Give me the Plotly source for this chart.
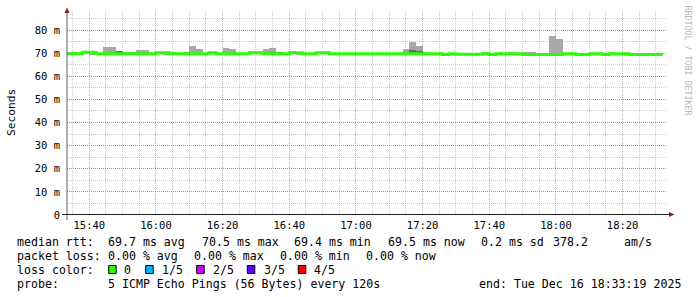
import plotly.graph_objects as go
import pandas as pd

# ---------------- data (2-minute steps, starting 15:32) ----------------
step_start = pd.date_range("2025-12-16 15:32:00", periods=90, freq="2min")
range_start = "2025-12-16 15:33:19"
range_end = "2025-12-16 18:33:19"

median_ms = [
    69.7, 69.7, 69.7, 70.4, 70.4, 69.7, 69.7, 69.7, 69.7, 69.7,
    69.7, 69.7, 69.7, 69.7, 70.2, 70.2, 69.7, 69.7, 69.7, 69.7,
    69.7, 69.7, 70.2, 69.7, 69.7, 69.7, 69.7, 69.7, 70.2, 70.2,
    69.7, 69.7, 69.7, 69.7, 70.2, 70.2, 69.7, 69.7, 70.2, 70.2,
    69.7, 69.7, 69.7, 69.7, 69.7, 69.7, 69.7, 69.7, 69.7, 69.7,
    69.7, 69.7, 69.7, 69.7, 69.7, 69.7, 69.7, 69.4, 69.7, 69.5,
    69.5, 69.5, 69.5, 69.7, 69.4, 69.7, 69.7, 69.7, 69.7, 69.4,
    69.4, 69.4, 69.4, 69.4, 69.4, 69.7, 69.7, 69.4, 69.4, 69.7,
    69.7, 69.4, 69.7, 69.7, 69.7, 69.4, 69.4, 69.4, 69.4, 69.4,
]
smoke_hi = [
    70.6, 70.6, 69.9, 70.5, 70.5, 69.9, 72.6, 72.6, 71.0, 70.6,
    70.6, 71.3, 71.3, 69.9, 70.4, 70.4, 70.6, 69.9, 70.6, 73.1,
    71.8, 69.9, 70.4, 69.9, 72.2, 71.8, 69.9, 69.9, 70.4, 70.4,
    71.8, 72.2, 70.7, 69.9, 70.9, 70.4, 69.9, 69.9, 70.4, 70.4,
    69.9, 69.9, 69.9, 69.9, 69.9, 69.9, 69.9, 69.9, 69.9, 69.9,
    69.9, 71.8, 74.8, 73.1, 70.6, 69.9, 69.9, 69.6, 69.9, 69.7,
    69.7, 69.7, 69.7, 70.6, 69.6, 69.9, 69.9, 70.6, 69.9, 70.6,
    70.6, 69.6, 69.6, 77.4, 76.1, 69.9, 69.9, 69.6, 69.6, 69.9,
    69.9, 69.6, 69.9, 69.9, 69.9, 69.6, 69.6, 69.6, 69.6, 69.6,
]
smoke_lo = [
    69.5, 69.5, 69.5, 70.2, 69.2, 69.5, 69.5, 69.5, 69.5, 69.5,
    69.5, 69.5, 69.5, 69.5, 70.0, 69.2, 69.5, 69.5, 69.5, 69.5,
    69.5, 69.5, 70.0, 69.5, 69.5, 69.5, 69.5, 69.5, 70.0, 70.0,
    69.5, 69.5, 69.5, 69.5, 70.0, 69.2, 69.5, 69.5, 70.0, 70.0,
    69.5, 69.5, 69.5, 69.5, 69.5, 69.5, 69.5, 69.5, 69.5, 69.5,
    69.5, 69.5, 69.2, 69.5, 69.5, 69.5, 69.5, 69.2, 69.5, 69.3,
    69.3, 69.3, 69.3, 69.5, 69.2, 69.5, 69.5, 69.5, 69.5, 69.2,
    69.2, 69.2, 69.2, 69.2, 69.2, 69.5, 69.5, 69.2, 69.2, 69.5,
    69.5, 69.2, 69.5, 69.5, 69.5, 69.2, 69.2, 69.2, 69.2, 69.2,
]
inner_hi = [
    69.7, 69.7, 69.7, 70.4, 70.4, 69.7, 69.7, 69.7, 70.8, 69.7,
    69.7, 69.7, 69.7, 69.7, 70.2, 70.2, 69.7, 69.7, 69.7, 69.7,
    69.7, 69.7, 70.2, 69.7, 69.7, 69.7, 69.7, 69.7, 70.2, 70.2,
    69.7, 70.7, 70.7, 69.7, 70.2, 70.2, 69.7, 69.7, 70.2, 70.2,
    69.7, 69.7, 69.7, 69.7, 69.7, 69.7, 69.7, 69.7, 69.7, 69.7,
    69.7, 69.7, 71.35, 71.0, 69.7, 69.7, 69.7, 69.4, 69.7, 69.5,
    69.5, 69.5, 69.5, 69.7, 69.4, 69.7, 69.7, 69.7, 69.7, 69.4,
    69.4, 69.4, 69.4, 69.4, 69.4, 69.7, 69.7, 69.4, 69.4, 69.7,
    69.7, 69.4, 69.7, 69.7, 69.7, 69.4, 69.4, 69.4, 69.4, 69.4,
]

y_tick_vals = [0, 10, 20, 30, 40, 50, 60, 70, 80]
y_tick_text = ["0", "10 m", "20 m", "30 m", "40 m", "50 m", "60 m", "70 m", "80 m"]

legend_labels = ["0", "1/5", "2/5", "3/5", "4/5"]
legend_colors = ["#26ff00", "#00b8ff", "#cc00ff", "#5e00ff", "#ff0000"]

stat_rows = [
    ["median rtt:", "69.7 ms avg", "70.5 ms max", "69.4 ms min", "69.5 ms now", "0.2 ms sd", "378.2", "am/s"],
    ["packet loss:", "0.00 % avg", "0.00 % max", "0.00 % min", "0.00 % now"],
    ["probe:", "5 ICMP Echo Pings (56 Bytes) every 120s", "end: Tue Dec 16 18:33:19 2025"],
]

# ---------------- layout geometry (pixels) ----------------
W, H = 697, 297
L, R, T, B = 67, 30, 11, 82
PW, PH = W - L - R, H - T - B


def px(x):
    return (x - L) / PW


def py(y):
    return (H - B - y) / PH


mono = "DejaVu Sans Mono"
mid = step_start + pd.Timedelta(minutes=1)

fig = go.Figure()
fig.add_trace(go.Bar(
    x=mid, base=smoke_lo, y=[h - l for h, l in zip(smoke_hi, smoke_lo)],
    width=120000, marker=dict(color="#a8a8a8", line=dict(width=0)),
    hoverinfo="skip", showlegend=False))
fig.add_trace(go.Bar(
    x=mid, base=median_ms, y=[h - m for h, m in zip(inner_hi, median_ms)],
    width=120000, marker=dict(color="#6a6a6a", line=dict(width=0)),
    hoverinfo="skip", showlegend=False))
fig.add_trace(go.Scatter(
    x=list(step_start) + [step_start[-1] + pd.Timedelta(minutes=2)],
    y=median_ms + [median_ms[-1]],
    mode="lines", line=dict(color="#26ff00", width=3, shape="hv"),
    hoverinfo="skip", showlegend=False))

major = "rgba(225,80,80,0.6)"
minor = "rgba(150,150,150,0.5)"

fig.update_layout(
    width=W, height=H, margin=dict(l=L, r=R, t=T, b=B),
    paper_bgcolor="white", plot_bgcolor="white",
    barmode="overlay", bargap=0, showlegend=False,
    xaxis=dict(
        type="date", range=[range_start, range_end],
        tick0="2025-12-16 15:40", dtick=1200000, tickformat="%H:%M",
        showgrid=True, gridcolor=major, gridwidth=1, griddash="1px,1px",
        minor=dict(dtick=300000, showgrid=True, gridcolor=minor, gridwidth=1, griddash="1px,1px"),
        zeroline=False, showline=False, ticks="",
        tickfont=dict(family=mono, size=10.5, color="#000"),
        ticklabelstandoff=2, fixedrange=True,
    ),
    yaxis=dict(
        range=[0, PH / 2.3125], tickvals=y_tick_vals, ticktext=y_tick_text,
        showgrid=True, gridcolor=major, gridwidth=1, griddash="1px,1px",
        minor=dict(dtick=5, showgrid=True, gridcolor=minor, gridwidth=1, griddash="1px,1px"),
        zeroline=False, showline=False, ticks="",
        tickfont=dict(family=mono, size=10.5, color="#000"),
        ticklabelstandoff=6, fixedrange=True,
    ),
)

shapes = []
# axes
shapes.append(dict(type="line", xref="paper", yref="paper", x0=px(67), x1=px(67), y0=py(220), y1=py(12),
                   line=dict(color="#606060", width=1)))
shapes.append(dict(type="line", xref="paper", yref="paper", x0=px(62), x1=px(670), y0=py(214.5), y1=py(214.5),
                   line=dict(color="#202020", width=1)))
# arrows
shapes.append(dict(type="path", xref="paper", yref="paper",
                   path=f"M {px(64.5)} {py(13)} L {px(69.5)} {py(13)} L {px(67)} {py(7.5)} Z",
                   fillcolor="#8b1a1a", line=dict(width=0)))
shapes.append(dict(type="path", xref="paper", yref="paper",
                   path=f"M {px(669)} {py(212)} L {px(669)} {py(217)} L {px(674.5)} {py(214.5)} Z",
                   fillcolor="#8b1a1a", line=dict(width=0)))
# loss colour swatches
sw_x = [108.7, 145.7, 196.7, 247.3, 298.3]
lab_x = [123, 161, 212, 263, 313.3]
for sx, c in zip(sw_x, legend_colors):
    shapes.append(dict(type="rect", xref="paper", yref="paper", x0=px(sx), x1=px(sx + 7.5),
                       y0=py(273.5), y1=py(265.5), fillcolor=c, line=dict(color="#000", width=1)))
fig.update_layout(shapes=shapes)

ann = []


def text(x, y, s, size=11.6, color="#000", angle=0, xanchor="left"):
    ann.append(dict(xref="paper", yref="paper", x=px(x), y=py(y), text=s.replace(" ", "\u00a0"),
                    showarrow=False, xanchor=xanchor, yanchor="middle", textangle=angle,
                    borderpad=0, font=dict(family=mono, size=size, color=color)))


row1_x = [16, 107.3, 201, 293.3, 386.7, 480, 551.5, 623.3]
row2_x = [16, 107.3, 193.3, 279.3, 365]
row4_x = [16, 107.3, 478.3]
for s, x in zip(stat_rows[0], row1_x):
    text(x, 241.5, s)
for s, x in zip(stat_rows[1], row2_x):
    text(x, 255.5, s)
text(16, 269.5, "loss color:")
for s, x in zip(legend_labels, lab_x):
    text(x, 269.5, s)
for s, x in zip(stat_rows[2], row4_x):
    text(x, 283.5, s)

text(11, 113, "Seconds", size=11.2, angle=-90, xanchor="center")
text(687.5, 60, "RRDTOOL / TOBI OETIKER", size=8.3, color="#b8b8b8", angle=90, xanchor="center")
fig.update_layout(annotations=ann)

fig.write_html("out.html", config={"displayModeBar": False})
